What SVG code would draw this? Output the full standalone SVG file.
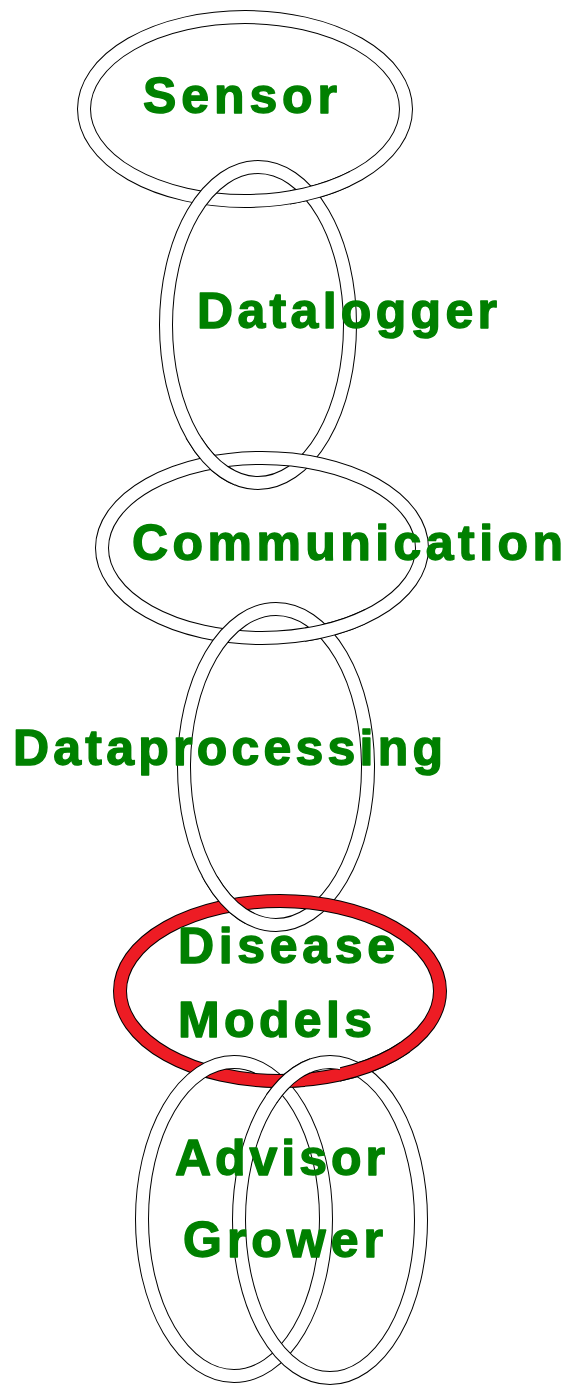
<svg xmlns="http://www.w3.org/2000/svg" xmlns:xlink="http://www.w3.org/1999/xlink" width="568" height="1388" viewBox="0 0 568 1388">
<style>
.edge{fill:none;stroke:#000;stroke-width:14}
.band{fill:none;stroke:#fff;stroke-width:12}
.red{fill:none;stroke:#ed1c24;stroke-width:12}
.lbl{font-family:"Liberation Sans",Arial,sans-serif;font-weight:bold;font-size:50px;fill:#008000;stroke:#008000;stroke-width:1.4;stroke-linejoin:round}
</style>
<defs>
<g id="r1"><ellipse class="edge" cx="245" cy="109" rx="161" ry="92"/><ellipse class="band" cx="245" cy="109" rx="161" ry="92"/></g>
<g id="r2"><ellipse class="edge" cx="258" cy="325" rx="92" ry="158"/><ellipse class="band" cx="258" cy="325" rx="92" ry="158"/></g>
<g id="r3"><ellipse class="edge" cx="262" cy="548" rx="160" ry="90"/><ellipse class="band" cx="262" cy="548" rx="160" ry="90"/></g>
<g id="r4"><ellipse class="edge" cx="276" cy="767" rx="92" ry="158"/><ellipse class="band" cx="276" cy="767" rx="92" ry="158"/></g>
<g id="r5"><ellipse class="edge" cx="280" cy="991" rx="160" ry="90"/><ellipse class="red" cx="280" cy="991" rx="160" ry="90"/></g>
<g id="r6"><ellipse class="edge" cx="234" cy="1219" rx="92" ry="157"/><ellipse class="band" cx="234" cy="1219" rx="92" ry="157"/></g>
<g id="r7"><ellipse class="edge" cx="330" cy="1220" rx="91" ry="158"/><ellipse class="band" cx="330" cy="1220" rx="91" ry="158"/></g>
<clipPath id="c1"><rect x="290" y="160" width="60" height="55"/></clipPath>
<clipPath id="c2"><rect x="180" y="438" width="55" height="48"/></clipPath>
<clipPath id="c3"><rect x="305" y="605" width="60" height="55"/></clipPath>
<clipPath id="c4"><rect x="195" y="876" width="60" height="48"/></clipPath>
<clipPath id="c5"><rect x="255" y="1048" width="50" height="55"/></clipPath>
<clipPath id="c6"><rect x="266" y="1048" width="44" height="55"/></clipPath>
<clipPath id="c7"><rect x="340" y="1042" width="70" height="58"/></clipPath>
</defs>
<g id="sensor">
<use xlink:href="#r1"/>
<text class="lbl" x="143" y="113" textLength="194" lengthAdjust="spacing">Sensor</text>
</g>
<g id="datalogger">
<use xlink:href="#r2"/>
<text class="lbl" x="197" y="328" textLength="300" lengthAdjust="spacing">Datalogger</text>
</g>
<g id="communication">
<use xlink:href="#r3"/>
<text class="lbl" x="132" y="560" textLength="431" lengthAdjust="spacing">Communication</text>
</g>
<g id="dataprocessing">
<use xlink:href="#r4"/>
<text class="lbl" x="13" y="765" textLength="430" lengthAdjust="spacing">Dataprocessing</text>
</g>
<g id="disease-models">
<use xlink:href="#r5"/>
<text class="lbl" x="178" y="963" textLength="217" lengthAdjust="spacing">Disease</text>
<text class="lbl" x="178" y="1037" textLength="194" lengthAdjust="spacing">Models</text>
</g>
<g id="advisor-grower">
<use xlink:href="#r6"/>
<use xlink:href="#r7"/>
</g>
<g id="interlocks">
<use xlink:href="#r1" clip-path="url(#c1)"/>
<use xlink:href="#r2" clip-path="url(#c2)"/>
<use xlink:href="#r3" clip-path="url(#c3)"/>
<use xlink:href="#r4" clip-path="url(#c4)"/>
<use xlink:href="#r5" clip-path="url(#c5)"/>
<use xlink:href="#r7" clip-path="url(#c6)"/>
<use xlink:href="#r5" clip-path="url(#c7)"/>
</g>
<g id="advisor-grower-labels">
<text class="lbl" x="175" y="1175" textLength="210" lengthAdjust="spacing">Advisor</text>
<text class="lbl" x="183" y="1257" textLength="200" lengthAdjust="spacing">Grower</text>
</g>
</svg>
